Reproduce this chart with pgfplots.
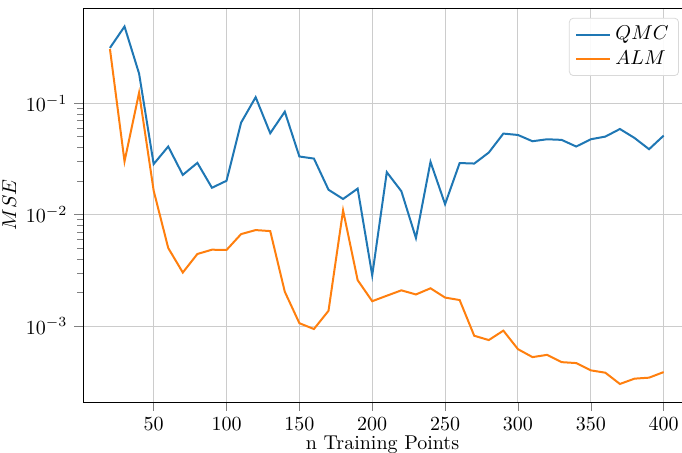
\documentclass[border=0pt]{standalone}
\usepackage{pgfplots}
\pgfplotsset{compat=1.18}
\definecolor{mplblue}{HTML}{1F77B4}
\definecolor{mplorange}{HTML}{FF7F0E}
\begin{document}
\begin{tikzpicture}
\begin{axis}[
    scale only axis,
    width=299.5pt, height=197pt,
    ymode=log,
    xmin=1.5, xmax=412.6,
    ymin=2.08e-4, ymax=0.714,
    xtick={50,100,150,200,250,300,350,400},
    ytick={1e-3,1e-2,1e-1},
    xtick pos=bottom, ytick pos=left,
    tick align=outside,
    grid=major,
    major grid style={gray!40, line width=0.5pt},
    xlabel={n Training Points},
    ylabel={$MSE$},
    xlabel style={yshift=4pt},
    ylabel style={yshift=-2pt},
    legend style={at={(rel axis cs:0.995,0.975)}, anchor=north east,
        draw=gray!30, rounded corners=2pt, fill=white, fill opacity=0.9, text opacity=1,
        font=\normalsize},
    legend cell align=left,
]
\addplot[mplblue, line width=1pt] coordinates {
(20,0.313) (30,0.487) (40,0.184) (50,0.0284) (60,0.0408) (70,0.0227) (80,0.0291)
(90,0.0174) (100,0.0201) (110,0.0668) (120,0.113) (130,0.0537) (140,0.0838)
(150,0.0332) (160,0.0318) (170,0.0167) (180,0.0138) (190,0.0171) (200,0.00285)
(210,0.0240) (220,0.0162) (230,0.00616) (240,0.0297) (250,0.0124) (260,0.0290)
(270,0.0287) (280,0.0360) (290,0.0533) (300,0.0518) (310,0.0455) (320,0.0474)
(330,0.0468) (340,0.0408) (350,0.0474) (360,0.0501) (370,0.0586) (380,0.0487)
(390,0.0386) (400,0.0511)
};
\addlegendentry{$QMC$}
\addplot[mplorange, line width=1pt] coordinates {
(20,0.306) (30,0.030) (40,0.124) (50,0.0164) (60,0.00501) (70,0.00302) (80,0.00443)
(90,0.00484) (100,0.00481) (110,0.00668) (120,0.00726) (130,0.00711) (140,0.00203)
(150,0.00106) (160,0.00094) (170,0.00137) (180,0.0109) (190,0.00258) (200,0.00167)
(210,0.00187) (220,0.00209) (230,0.00192) (240,0.00218) (250,0.00180) (260,0.00171)
(270,0.000818) (280,0.000748) (290,0.000909) (300,0.000620) (310,0.000526)
(320,0.000551) (330,0.000474) (340,0.000465) (350,0.000400) (360,0.000381)
(370,0.000302) (380,0.000337) (390,0.000344) (400,0.000386)
};
\addlegendentry{$ALM$}
\end{axis}
\pgfresetboundingbox
\path[use as bounding box] ([shift={(-41.5pt,-25pt)}]current axis.south west) rectangle ([shift={(0pt,4pt)}]current axis.north east);
\end{tikzpicture}
\end{document}
